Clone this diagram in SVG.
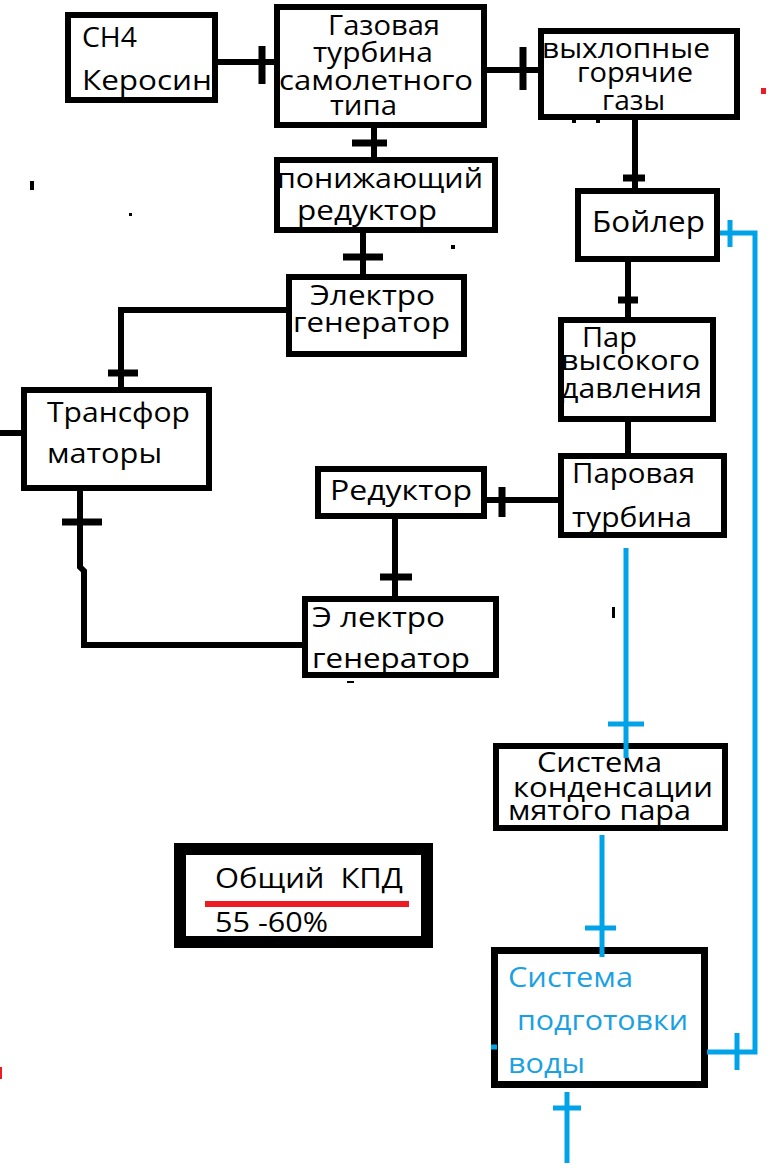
<svg xmlns="http://www.w3.org/2000/svg" width="769" height="1168" viewBox="0 0 769 1168">
<style>
.bg{fill:#fff}
.fr{fill:none;stroke:#000;stroke-width:6}
.t{font-family:"Open Sans","Liberation Sans",sans-serif;font-size:27px;fill:#000}
.tb{fill:#1ba1e2}
.c{fill:none;stroke:#000;stroke-width:6}
.tk{fill:none;stroke:#000;stroke-width:7}
.b{fill:none;stroke:#00a2e8;stroke-width:5}
</style>
<rect width="769" height="1168" fill="#fff"/>
<g id="n-ch4">
<rect class="bg" x="68" y="15" width="147" height="85"/>
<text class="t" x="82" y="47" textLength="55" lengthAdjust="spacingAndGlyphs">CH4</text>
<text class="t" x="82" y="90" textLength="130" lengthAdjust="spacingAndGlyphs">Керосин</text>
<rect class="fr" x="68" y="15" width="147" height="85"/>
</g>
<g id="n-gt">
<rect class="bg" x="277" y="7" width="207" height="118"/>
<text class="t" x="328" y="35" textLength="112" lengthAdjust="spacingAndGlyphs">Газовая</text>
<text class="t" x="313" y="62" textLength="120" lengthAdjust="spacingAndGlyphs">турбина</text>
<text class="t" x="279" y="90" textLength="194" lengthAdjust="spacingAndGlyphs">самолетного</text>
<text class="t" x="330" y="115" textLength="67" lengthAdjust="spacingAndGlyphs">типа</text>
<rect class="fr" x="277" y="7" width="207" height="118"/>
</g>
<g id="n-exh">
<rect class="bg" x="541" y="31" width="196" height="86"/>
<rect class="fr" x="541" y="31" width="196" height="86"/>
<text class="t" x="542" y="58" textLength="168" lengthAdjust="spacingAndGlyphs">выхлопные</text>
<text class="t" x="577" y="82" textLength="116" lengthAdjust="spacingAndGlyphs">горячие</text>
<text class="t" x="602" y="110" textLength="63" lengthAdjust="spacingAndGlyphs">газы</text>
</g>
<g id="n-red1">
<rect class="bg" x="277" y="160" width="218" height="70"/>
<text class="t" x="277" y="188" textLength="206" lengthAdjust="spacingAndGlyphs">понижающий</text>
<text class="t" x="297" y="220" textLength="140" lengthAdjust="spacingAndGlyphs">редуктор</text>
<rect class="fr" x="277" y="160" width="218" height="70"/>
</g>
<g id="n-boiler">
<rect class="bg" x="578" y="191" width="139" height="68"/>
<text class="t" x="592" y="232" style="font-size:29px" textLength="113" lengthAdjust="spacingAndGlyphs">Бойлер</text>
<rect class="fr" x="578" y="191" width="139" height="68"/>
</g>
<g id="n-gen1">
<rect class="bg" x="289" y="277" width="175" height="77"/>
<text class="t" x="310" y="305" textLength="125" lengthAdjust="spacingAndGlyphs">Электро</text>
<text class="t" x="293" y="332" textLength="157" lengthAdjust="spacingAndGlyphs">генератор</text>
<rect class="fr" x="289" y="277" width="175" height="77"/>
</g>
<g id="n-trans">
<rect class="bg" x="24" y="390" width="185" height="98"/>
<text class="t" x="47" y="422" textLength="143" lengthAdjust="spacingAndGlyphs">Трансфор</text>
<text class="t" x="47" y="463" textLength="115" lengthAdjust="spacingAndGlyphs">маторы</text>
<rect class="fr" x="24" y="390" width="185" height="98"/>
</g>
<g id="n-red2">
<rect class="bg" x="318" y="469" width="166" height="47"/>
<text class="t" x="330" y="500" textLength="142" lengthAdjust="spacingAndGlyphs">Редуктор</text>
<rect class="fr" x="318" y="469" width="166" height="47"/>
</g>
<g id="n-gen2">
<rect class="bg" x="305" y="599" width="191" height="76"/>
<text class="t" x="312" y="627" textLength="133" lengthAdjust="spacingAndGlyphs">Э лектро</text>
<text class="t" x="312" y="668" textLength="158" lengthAdjust="spacingAndGlyphs">генератор</text>
<rect class="fr" x="305" y="599" width="191" height="76"/>
</g>
<g id="n-steam">
<rect class="bg" x="561" y="320" width="152" height="99"/>
<text class="t" x="582" y="347" textLength="55" lengthAdjust="spacingAndGlyphs">Пар</text>
<text class="t" x="561" y="370" textLength="139" lengthAdjust="spacingAndGlyphs">высокого</text>
<text class="t" x="561" y="398" textLength="141" lengthAdjust="spacingAndGlyphs">давления</text>
<rect class="fr" x="561" y="320" width="152" height="99"/>
</g>
<g id="n-st">
<rect class="bg" x="561" y="456" width="163" height="79"/>
<text class="t" x="572" y="483" textLength="123" lengthAdjust="spacingAndGlyphs">Паровая</text>
<text class="t" x="572" y="527" textLength="120" lengthAdjust="spacingAndGlyphs">турбина</text>
<rect class="fr" x="561" y="456" width="163" height="79"/>
</g>
<g id="n-cond">
<rect class="bg" x="496" y="746" width="229" height="82"/>
<text class="t" x="537" y="772" textLength="125" lengthAdjust="spacingAndGlyphs">Система</text>
<text class="t" x="513" y="797" textLength="200" lengthAdjust="spacingAndGlyphs">конденсации</text>
<text class="t" x="508" y="820" textLength="183" lengthAdjust="spacingAndGlyphs">мятого пара</text>
<rect class="fr" x="496" y="746" width="229" height="82"/>
</g>
<g id="n-kpd">
<rect x="180" y="849" width="247" height="93" fill="#fff" stroke="#000" stroke-width="12"/>
<text class="t" x="215" y="888" textLength="188" lengthAdjust="spacingAndGlyphs" xml:space="preserve">Общий  КПД</text>
<path d="M205,904H409" stroke="#ed1c24" stroke-width="6"/>
<text class="t" x="215" y="932" textLength="113" lengthAdjust="spacingAndGlyphs">55 -60%</text>
</g>
<g id="n-water">
<rect x="494.5" y="950.5" width="210" height="134" fill="#fff" stroke="#000" stroke-width="7"/>
<text class="t tb" x="508" y="987" textLength="125" lengthAdjust="spacingAndGlyphs">Система</text>
<text class="t tb" x="517" y="1030" textLength="171" lengthAdjust="spacingAndGlyphs">подготовки</text>
<text class="t tb" x="508" y="1073" textLength="77" lengthAdjust="spacingAndGlyphs">воды</text>
</g>
<g id="connectors">
<path class="c" d="M212,62H276"/><path class="tk" d="M262,46V84"/>
<path class="c" d="M487,70H541"/><path class="tk" d="M523,47V90"/>
<path class="c" d="M374,128V157"/><path class="tk" d="M352,143H387"/>
<path class="c" d="M363,233V274"/><path class="tk" d="M343,257H383"/>
<path class="c" d="M286,310H121V387"/><path class="tk" d="M108,373H138"/>
<path class="c" d="M0,433H21"/>
<path class="c" d="M80,491V567L84,571V645H302"/><path class="tk" d="M62,522H102"/>
<path class="c" d="M395,519V596"/><path class="tk" d="M380,577H412"/>
<path class="c" d="M487,500H558"/><path class="tk" d="M502,487V517"/>
<path class="c" d="M628,422V453"/>
<path class="c" d="M628,262V317"/><path class="tk" d="M618,300H638"/>
<path class="c" d="M635,120V188"/><path class="tk" d="M623,178H645"/>
<path class="b" d="M720,233H755V1052H707"/>
<path class="b" d="M730,220V247"/><path class="b" d="M737,1033V1070"/>
<path class="b" d="M626,548V758"/><path class="b" d="M608,724H644"/>
<path class="b" d="M602,835V957"/><path class="b" d="M585,928H616"/>
<path class="b" d="M567,1092V1163"/><path class="b" d="M553,1108H581"/>
<path class="b" d="M491,1047H497"/>
</g>
<g id="marks">
<rect x="30" y="181" width="4" height="9" fill="#000"/>
<rect x="129" y="213" width="3" height="3" fill="#000"/>
<rect x="451" y="245" width="4" height="4" fill="#000"/>
<rect x="761" y="88" width="5" height="6" fill="#ed1c24"/>
<rect x="0" y="1067" width="2" height="12" fill="#ed1c24"/>
<rect x="612" y="607" width="3" height="11" fill="#000"/>
<rect x="347" y="681" width="7" height="2" fill="#000"/>
<rect x="572" y="120" width="4" height="3" fill="#000"/>
<rect x="596" y="120" width="4" height="3" fill="#000"/>
</g>
</svg>
